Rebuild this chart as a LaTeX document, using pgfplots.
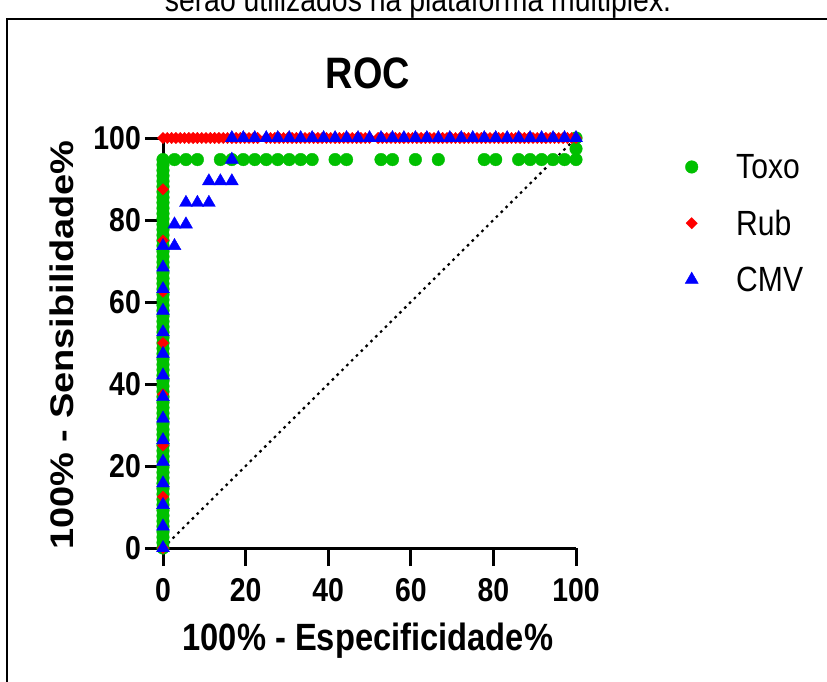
\documentclass[border=0pt]{standalone}
\usepackage{fontspec}
\setmainfont{Liberation Sans}
\newfontfamily\nfont[FakeStretch=0.86]{Liberation Sans}
\usepackage{pgfplots}
\pgfplotsset{compat=1.18}
\definecolor{tgreen}{RGB}{0,192,0}
\begin{document}
\begin{tikzpicture}
\begin{axis}[
  at={(163pt,133pt)}, anchor=south west, scale only axis,
  width=413pt, height=410pt,
  xmin=0, xmax=100, ymin=0, ymax=100, clip=false,
  axis lines=left,
  axis line style={line width=3pt, black, -},
  xtick={0,20,...,100}, ytick={0,20,...,100},
  tick align=outside, major tick length=18pt,
  tick style={line width=3pt, black},
  /pgf/number format/assume math mode=true,
  ticklabel style={font=\nfont\bfseries\fontsize{33}{33}\selectfont, inner sep=0pt},
  xticklabel style={anchor=north, yshift=-12pt},
  yticklabel style={anchor=east, xshift=-4pt},
  xlabel={100\% - Especificidade\%},
  ylabel={\scalebox{1}[0.86]{100\% - Sensibilidade\%}},
  label style={font=\bfseries\fontsize{38}{38}\selectfont},
  xlabel style={font=\nfont\bfseries\fontsize{38}{38}\selectfont, at={(axis description cs:0.496,-0.227)}, anchor=center},
  ylabel style={at={(axis description cs:-0.245,0.495)}, anchor=center},
  title={ROC},
  title style={font=\nfont\bfseries\fontsize{44}{44}\selectfont, at={(axis description cs:0.496,1.144)}, anchor=center},
  legend style={at={(axis description cs:1.264,0.961)}, anchor=north west, draw=none, fill=none,
    font=\nfont\fontsize{35}{35}\selectfont, row sep=30pt, column sep=38pt, inner sep=0pt,
    nodes={inner sep=0pt}},
  legend cell align=left,
]
\addplot[black, line width=2.2pt, dash pattern=on 2.6pt off 4.2pt, forget plot] coordinates {(0,0) (100,100)};
% Toxo
\addplot[only marks, mark=*, mark size=6.3pt, mark options={draw=tgreen, fill=tgreen}] coordinates {
(0,0) (0,1.32) (0,2.63) (0,3.95) (0,5.26) (0,6.58) (0,7.89) (0,9.21) (0,10.53) (0,11.84) (0,13.16) (0,14.47)
(0,15.79) (0,17.11) (0,18.42) (0,19.74) (0,21.05) (0,22.37) (0,23.68) (0,25.00) (0,26.32) (0,27.63)
(0,28.95) (0,30.26) (0,31.58) (0,32.89) (0,34.21) (0,35.53) (0,36.84) (0,38.16) (0,39.47) (0,40.79)
(0,42.11) (0,43.42) (0,44.74) (0,46.05) (0,47.37) (0,48.68) (0,50.00) (0,51.32) (0,52.63) (0,53.95)
(0,55.26) (0,56.58) (0,57.89) (0,59.21) (0,60.53) (0,61.84) (0,63.16) (0,64.47) (0,65.79) (0,67.11)
(0,68.42) (0,69.74) (0,71.05) (0,72.37) (0,73.68) (0,75.00) (0,76.32) (0,77.63) (0,78.95) (0,80.26)
(0,81.58) (0,82.89) (0,84.21) (0,85.53) (0,86.84) (0,88.16) (0,89.47) (0,90.79) (0,92.11) (0,93.42) (0,94.74)
(2.78,94.74) (5.56,94.74) (8.33,94.74) (13.89,94.74) (16.67,94.74) (19.44,94.74) (22.22,94.74)
(25.00,94.74) (27.78,94.74) (30.56,94.74) (33.33,94.74) (36.11,94.74) (41.67,94.74) (44.44,94.74)
(52.78,94.74) (55.56,94.74) (61.11,94.74) (66.67,94.74) (77.78,94.74) (80.56,94.74) (86.11,94.74)
(88.89,94.74) (91.67,94.74) (94.44,94.74) (97.22,94.74) (100,94.74) (100,97.37) (100,100)
};
\addlegendentry{Toxo}
% Rub
\addplot[only marks, mark=square*, mark size=4pt, mark options={rotate=45, draw=red, fill=red}] coordinates {
(0,0) (0,12.5) (0,25) (0,37.5) (0,50) (0,62.5) (0,75) (0,87.5) (0,100)
(1.04,100) (2.08,100) (3.13,100) (4.17,100) (5.21,100) (6.25,100) (7.29,100) (8.33,100) (9.38,100) (10.42,100)
(11.46,100) (12.50,100) (13.54,100) (14.58,100) (15.63,100) (16.67,100) (17.71,100) (18.75,100) (19.79,100) (20.83,100)
(21.88,100) (22.92,100) (25.00,100) (26.04,100) (27.08,100) (28.13,100) (29.17,100) (30.21,100)
(31.25,100) (32.29,100) (33.33,100) (34.38,100) (35.42,100) (36.46,100) (37.50,100) (38.54,100) (39.58,100) (40.63,100)
(41.67,100) (42.71,100) (43.75,100) (44.79,100) (45.83,100) (46.88,100) (47.92,100) (48.96,100) (50.00,100)
(52.08,100) (53.13,100) (54.17,100) (55.21,100) (56.25,100) (57.29,100) (58.33,100) (59.38,100) (60.42,100)
(61.46,100) (62.50,100) (63.54,100) (64.58,100) (65.63,100) (66.67,100) (67.71,100) (68.75,100) (69.79,100) (70.83,100)
(71.88,100) (72.92,100) (73.96,100) (75.00,100) (76.04,100) (77.08,100) (78.13,100) (79.17,100) (80.21,100) (81.25,100)
(82.29,100) (83.33,100) (84.38,100) (85.42,100) (86.46,100) (87.50,100) (88.54,100) (89.58,100) (90.63,100) (91.67,100)
(92.71,100) (93.75,100) (94.79,100) (95.83,100) (96.88,100) (97.92,100) (98.96,100) (100,100)
};
\addlegendentry{Rub}
% CMV
\addplot[only marks, mark=triangle*, mark size=7.5pt, mark options={draw=blue, fill=blue}] coordinates {
(0,0) (0,5.26) (0,10.53) (0,15.79) (0,21.05) (0,26.32) (0,31.58) (0,36.84) (0,42.11) (0,47.37)
(0,52.63) (0,57.89) (0,63.16) (0,68.42) (0,73.68)
(2.78,73.68) (2.78,78.95) (5.56,78.95) (5.56,84.21) (8.33,84.21) (11.11,84.21) (11.11,89.47)
(13.89,89.47) (16.67,89.47) (16.67,94.74) (16.67,100)
(19.44,100) (22.22,100) (25.00,100) (27.78,100) (30.56,100) (33.33,100) (36.11,100) (38.89,100)
(41.67,100) (44.44,100) (47.22,100) (50.00,100) (52.78,100) (55.56,100) (58.33,100) (61.11,100)
(63.89,100) (66.67,100) (69.44,100) (72.22,100) (75.00,100) (77.78,100) (80.56,100) (83.33,100)
(86.11,100) (88.89,100) (91.67,100) (94.44,100) (97.22,100) (100,100)
};
\addlegendentry{CMV}
\end{axis}
\draw[line width=2.5pt, line join=miter] (7pt,-20pt) -- (7pt,662pt) -- (850pt,662pt);
\node[anchor=base, inner sep=0pt, font=\nfont\fontsize{33}{33}\selectfont] at (418pt,669pt) {serão utilizados na plataforma multiplex.};
\pgfresetboundingbox
\useasboundingbox (0pt,0pt) rectangle (827pt,681pt);
\end{tikzpicture}
\end{document}
